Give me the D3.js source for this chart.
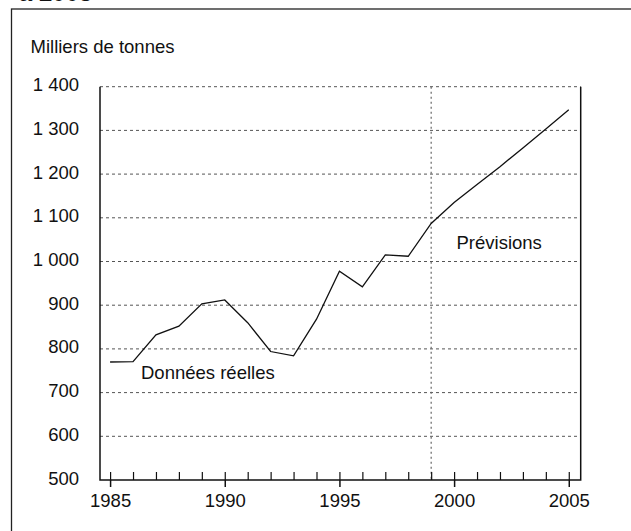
<!DOCTYPE html>
<html>
<head>
<meta charset="utf-8">
<script src="https://cdn.jsdelivr.net/npm/d3@7"></script>
<style>
  body { margin: 0; background: #fff; }
  svg { display: block; font-family: "Liberation Sans", Arial, sans-serif; }
</style>
</head>
<body>
<svg id="chart"></svg>
<script>
// values (milliers de tonnes)
const years = [1985, 1986, 1987, 1988, 1989, 1990, 1991, 1992, 1993, 1994, 1995,
               1996, 1997, 1998, 1999, 2000, 2001, 2002, 2003, 2004, 2005];
const tonnes = [770, 771, 832, 852, 903, 912, 860, 794, 784, 868, 978,
                942, 1015, 1012, 1087, 1135, 1176, 1217, 1260, 1303, 1347];
const yTicks = [500, 600, 700, 800, 900, 1000, 1100, 1200, 1300, 1400];
const xMajor = [1985, 1990, 1995, 2000, 2005];
const forecastStart = 1999;

const width = 631;
const height = 531;
const margin = { top: 86.7, right: 50.3, bottom: 51, left: 100 };
const fs = 18.5;

const svg = d3.select("#chart")
  .attr("width", width)
  .attr("height", height);

// bit of the title left over from the line above
svg.append("text")
  .attr("x", 19)
  .attr("y", 0.8)
  .attr("font-size", 24)
  .attr("font-weight", "bold")
  .attr("fill", "#111")
  .text("à 2005");

// outer frame, cut by the right and bottom edges
svg.append("rect")
  .attr("x", 11.5)
  .attr("y", 9)
  .attr("width", width + 20)
  .attr("height", height + 20)
  .attr("fill", "none")
  .attr("stroke", "#222")
  .attr("stroke-width", 1.3);

svg.append("text")
  .attr("x", 30.5)
  .attr("y", 52.7)
  .attr("font-size", fs)
  .attr("fill", "#111")
  .text("Milliers de tonnes");

const x = d3.scaleLinear()
  .domain([1984.56, 2005.52])
  .range([margin.left, width - margin.right]);

const y = d3.scaleLinear()
  .domain([500, 1400])
  .range([height - margin.bottom, margin.top]);

const fr = d3.formatLocale({ decimal: ",", thousands: " ", grouping: [3], currency: ["", " €"] });
const fmt = fr.format(",d");

// horizontal dashed grid
svg.append("g")
  .selectAll("line")
  .data(yTicks.filter((d) => d > 500))
  .join("line")
  .attr("x1", margin.left)
  .attr("x2", width - margin.right)
  .attr("y1", (d) => y(d))
  .attr("y2", (d) => y(d))
  .attr("stroke", "#555")
  .attr("stroke-width", 1)
  .attr("stroke-dasharray", "3,3");

// dotted line where forecasts begin
svg.append("line")
  .attr("x1", x(forecastStart))
  .attr("x2", x(forecastStart))
  .attr("y1", y(1400))
  .attr("y2", y(500))
  .attr("stroke", "#666")
  .attr("stroke-width", 1.2)
  .attr("stroke-dasharray", "2,3");

// y labels
const yAxis = svg.append("g")
  .attr("transform", `translate(${margin.left},0)`)
  .call(d3.axisLeft(y).tickValues(yTicks).tickSize(0).tickPadding(21).tickFormat(fmt));
yAxis.select(".domain").remove();
yAxis.selectAll("text")
  .attr("dy", "0.22em")
  .attr("font-size", fs)
  .attr("font-family", null)
  .attr("fill", "#111");

// plot frame: left, right, bottom solid
svg.append("path")
  .attr("d", `M${margin.left},${y(1400)}V${y(500)}H${width - margin.right}V${y(1400)}`)
  .attr("fill", "none")
  .attr("stroke", "#111")
  .attr("stroke-width", 1.5);

// minor ticks (every year, pointing up)
const minorAxis = svg.append("g")
  .attr("transform", `translate(0,${y(500)})`)
  .call(d3.axisBottom(x).tickValues(years).tickSize(-8).tickFormat(""));
minorAxis.select(".domain").remove();
minorAxis.selectAll("line").attr("stroke", "#111").attr("stroke-width", 1.2);

// major ticks cross the axis and carry the labels
const majorAxis = svg.append("g")
  .attr("transform", `translate(0,${y(500)})`)
  .call(d3.axisBottom(x).tickValues(xMajor).tickSize(7).tickPadding(7).tickFormat(d3.format("d")));
majorAxis.select(".domain").remove();
majorAxis.selectAll("line").attr("stroke", "#111").attr("stroke-width", 1.5);
majorAxis.selectAll("text")
  .attr("font-size", fs)
  .attr("font-family", null)
  .attr("fill", "#111");

// the series
const line = d3.line()
  .x((d, i) => x(years[i]))
  .y((d) => y(d));

svg.append("path")
  .datum(tonnes)
  .attr("d", line)
  .attr("fill", "none")
  .attr("stroke", "#111")
  .attr("stroke-width", 1.3);

svg.append("text")
  .attr("x", 141)
  .attr("y", 379.3)
  .attr("font-size", fs)
  .attr("fill", "#111")
  .text("Données réelles");

svg.append("text")
  .attr("x", 456.5)
  .attr("y", 249)
  .attr("font-size", fs)
  .attr("fill", "#111")
  .text("Prévisions");
</script>
</body>
</html>
